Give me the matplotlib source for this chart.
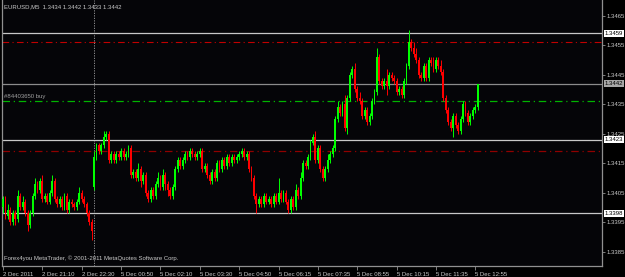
import numpy as np
import matplotlib
matplotlib.use('Agg')
from matplotlib import pyplot as plt
from matplotlib import transforms

## EURUSD M5 candles
first_open = 1.3400
monday_index = 37      # first bar after the weekend gap
monday_open = 1.3407

closes = [
  1.3403, 1.3397, 1.3399, 1.3395, 1.3398, 1.3396, 1.3404, 1.3400, 1.3402, 1.3398, 1.3394, 1.3398, 1.3404, 1.3408, 1.3406, 1.3409,
  1.3403, 1.3404, 1.3402, 1.3405, 1.3409, 1.3403, 1.3401, 1.3403, 1.3400, 1.3404, 1.3399, 1.3402, 1.3401, 1.3400, 1.3402, 1.3405,
  1.3403, 1.3401, 1.3398, 1.3395, 1.3392, 1.3417, 1.3421, 1.3419, 1.3421, 1.3424, 1.3425, 1.3416, 1.3418, 1.3416, 1.3418, 1.3417,
  1.3419, 1.3417, 1.3418, 1.3420, 1.3411, 1.3412, 1.3410, 1.3413, 1.3409, 1.3411, 1.3405, 1.3403, 1.3406, 1.3404, 1.3408, 1.3410,
  1.3407, 1.3411, 1.3408, 1.3406, 1.3404, 1.3407, 1.3413, 1.3416, 1.3414, 1.3416, 1.3418, 1.3417, 1.3419, 1.3418, 1.3417, 1.3418,
  1.3419, 1.3413, 1.3414, 1.3411, 1.3409, 1.3412, 1.3410, 1.3415, 1.3413, 1.3416, 1.3414, 1.3417, 1.3415, 1.3417, 1.3416, 1.3417,
  1.3418, 1.3419, 1.3417, 1.3418, 1.3413, 1.3410, 1.3404, 1.3401, 1.3403, 1.3401, 1.3404, 1.3402, 1.3403, 1.3401, 1.3404, 1.3402,
  1.3405, 1.3403, 1.3405, 1.3402, 1.3399, 1.3403, 1.3400, 1.3406, 1.3404, 1.3410, 1.3415, 1.3414, 1.3417, 1.3422, 1.3424, 1.3416,
  1.3420, 1.3413, 1.3410, 1.3413, 1.3416, 1.3418, 1.3420, 1.3430, 1.3434, 1.3432, 1.3435, 1.3427, 1.3437, 1.3445, 1.3447, 1.3440,
  1.3437, 1.3436, 1.3431, 1.3433, 1.3429, 1.3431, 1.3436, 1.3439, 1.3451, 1.3443, 1.3441, 1.3443, 1.3441, 1.3445, 1.3444, 1.3443,
  1.3439, 1.3440, 1.3438, 1.3443, 1.3448, 1.3456, 1.3454, 1.3452, 1.3450, 1.3445, 1.3444, 1.3448, 1.3444, 1.3450, 1.3449, 1.3447,
  1.3450, 1.3448, 1.3446, 1.3437, 1.3433, 1.3429, 1.3427, 1.3431, 1.3428, 1.3426, 1.3430, 1.3435, 1.3432, 1.3429, 1.3431, 1.3433,
  1.3434, 1.3442]

# wicks in pips above / below the body
upper_wick = [
  1,1,2,1,1,1,2,1,2,1,1,1,1,2,1,1,
  2,1,1,1,2,1,1,1,1,1,1,1,1,1,1,2,
  1,1,1,1,1,2,1,1,1,2,1,1,1,1,1,1,
  1,1,1,1,1,1,1,2,1,1,1,1,1,1,1,2,
  1,2,1,1,1,1,1,1,1,1,1,1,1,1,1,1,
  1,1,1,1,1,1,1,1,1,1,1,1,1,1,1,1,
  1,1,1,1,1,1,1,1,1,1,1,1,1,1,1,1,
  5,1,1,1,1,1,1,2,1,2,1,1,1,1,1,2,
  1,1,1,1,2,1,1,1,2,1,1,3,1,1,1,2,
  1,2,1,1,1,1,1,1,3,1,1,1,4,1,1,1,
  1,1,1,1,1,4,1,2,2,1,1,1,1,1,1,2,
  1,1,2,1,1,1,1,1,1,1,1,1,1,1,1,1,
  1,0]
lower_wick = [
  2,1,1,1,1,2,1,1,1,1,2,1,1,1,1,1,
  1,1,1,1,1,1,1,1,1,1,1,1,1,1,1,1,
  1,1,1,1,3,1,1,1,1,1,1,1,1,1,1,1,
  1,1,1,1,1,1,1,1,2,1,1,1,1,1,1,1,
  1,1,2,2,1,1,1,1,1,1,1,1,1,1,1,1,
  1,1,1,1,1,1,1,1,1,1,1,1,1,1,1,1,
  1,1,1,1,1,1,1,3,1,1,1,1,1,1,1,1,
  1,1,1,1,1,1,1,1,1,1,1,1,1,1,1,1,
  1,1,1,1,1,1,1,1,1,1,1,1,2,1,1,1,
  1,1,1,1,1,1,1,1,1,1,1,1,3,1,1,1,
  1,1,1,1,1,1,1,1,1,1,1,1,1,1,1,1,
  1,1,1,1,1,1,1,3,1,1,1,1,1,1,1,1,
  1,1]

time_labels = ["2 Dec 2011", "2 Dec 21:10", "2 Dec 22:30", "5 Dec 00:50", "5 Dec 02:10",
               "5 Dec 03:30", "5 Dec 04:50", "5 Dec 06:15", "5 Dec 07:35", "5 Dec 08:55",
               "5 Dec 10:15", "5 Dec 11:35", "5 Dec 12:55"]
price_ticks = [1.3465, 1.3455, 1.3445, 1.3435, 1.3425, 1.3415, 1.3405, 1.3395, 1.3385]

hlines = [1.3459, 1.3423, 1.3398]   # solid lines with white tags
bid = 1.3442
take_profit = 1.3456
stop_loss = 1.3419
order_open = 1.3436
order_text = "#84403650 buy"
title = "EURUSD,M5  1.3434 1.3442 1.3433 1.3442"
footer = "Forex4you MetaTrader, \u00a9 2001-2011 MetaQuotes Software Corp."

pip = 0.0001
c = np.array(closes)
o = np.concatenate([[first_open], c[:-1]])
o[monday_index] = monday_open
h = np.maximum(o, c) + np.array(upper_wick)*pip
l = np.minimum(o, c) - np.array(lower_wick)*pip
x = np.arange(len(c))

plt.rcParams['font.family'] = ['Liberation Sans', 'DejaVu Sans']
fs = 4.3
txt = '#c8c8c8'

fig = plt.figure(figsize=(6.25, 2.77), dpi=100)
fig.patch.set_facecolor('#000000')
ax = fig.add_axes([2/625, 1-266/277, 600/625, 266/277])
ax.set_facecolor('#050508')

up = c >= o
col = np.where(up, '#00ff00', '#ff0000')
ax.vlines(x, l, h, colors=col, lw=0.7, zorder=3)
body = np.maximum(np.abs(c-o), 0.00003)
ax.bar(x, body, bottom=np.minimum(o, c), width=0.75, color=col, lw=0, zorder=4)

# levels
dashdot = (0, (6, 3, 1, 3))
for p in hlines:
    ax.axhline(p, color='#c8c8c8', lw=0.9, zorder=2)
ax.axhline(bid, color='#8c8c8c', lw=0.9, zorder=2)
ax.axhline(take_profit, color='#c00000', lw=0.8, ls=dashdot, zorder=1)
ax.axhline(stop_loss, color='#900000', lw=0.9, ls=dashdot, zorder=1)
ax.axhline(order_open, color='#00b400', lw=0.9, ls=dashdot, zorder=1)
ax.axvline(monday_index, color='#a0a0a0', lw=0.6, ls=(0, (1.5, 1.5)), zorder=1)

ax.set_xlim(-0.4, 243.5)
ax.set_ylim(1.338015, 1.347032)

# axes look
for s in ['left', 'bottom', 'right']:
    ax.spines[s].set_color('#909090')
    ax.spines[s].set_linewidth(0.9)
ax.spines['top'].set_visible(False)

ax.yaxis.tick_right()
ax.set_yticks(price_ticks)
ax.set_yticklabels(["{:.4f}".format(p) for p in price_ticks])
ax.tick_params(axis='y', colors='#909090', labelcolor=txt, labelsize=fs, length=2, width=0.6, pad=1.5)

ax.set_xticks(np.arange(len(time_labels))*16)
ax.set_xticklabels(time_labels)
ax.tick_params(axis='x', colors='#909090', labelcolor=txt, labelsize=fs, length=3, width=0.6, pad=1)
for lab in ax.get_xticklabels():
    lab.set_horizontalalignment('left')

# price tags on the right
tr = transforms.blended_transform_factory(ax.transAxes, ax.transData)
for p in hlines:
    ax.text(1.004, p, "{:.4f}".format(p), transform=tr, fontsize=fs, color='black', va='center', ha='left',
            bbox=dict(boxstyle='square,pad=0.15', fc='white', ec='none'), clip_on=False, zorder=6)
ax.text(1.004, bid, "{:.4f}".format(bid), transform=tr, fontsize=fs, color='black', va='center', ha='left',
        bbox=dict(boxstyle='square,pad=0.15', fc='#a8a8a8', ec='none'), clip_on=False, zorder=6)

ax.text(0.004, order_open + 0.00006, order_text, transform=tr, fontsize=fs, color='#a0a0a0', va='bottom', ha='left')
ax.text(0.003, 0.975, title, transform=ax.transAxes, fontsize=fs, color=txt, va='center', ha='left')
ax.text(0.003, 0.030, footer, transform=ax.transAxes, fontsize=fs, color=txt, va='center', ha='left')

fig.savefig('out.png', dpi=100, facecolor=fig.get_facecolor())
